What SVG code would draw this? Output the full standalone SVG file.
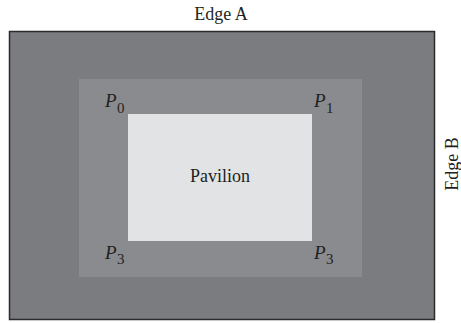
<svg xmlns="http://www.w3.org/2000/svg" width="461" height="323" viewBox="0 0 461 323">
<style>
text{font-family:"Liberation Serif","DejaVu Serif",serif;fill:#231f20}
.lbl{font-size:18px}
.p{font-size:19px;font-style:italic}
.sub{font-size:15px;font-style:normal}
</style>
<rect width="461" height="323" fill="#ffffff"/>
<g id="site">
<rect x="9.5" y="31.5" width="425" height="288" fill="#7b7c80" stroke="#2b2b2b" stroke-width="1.5"/>
</g>
<g id="zone">
<rect x="79" y="79" width="283" height="198" fill="#8a8b8f"/>
</g>
<g id="pavilion">
<rect x="128" y="114" width="184" height="127" fill="#e2e3e5"/>
<text class="lbl" x="220" y="182" text-anchor="middle">Pavilion</text>
</g>
<g id="edgeA"><text class="lbl" x="221" y="20" text-anchor="middle">Edge A</text></g>
<g id="edgeB"><text class="lbl" font-size="17" transform="translate(458,164) rotate(-90)" text-anchor="middle">Edge B</text></g>
<g id="p0"><text class="p" x="105" y="106.5">P<tspan class="sub" dx="0.5" dy="6">0</tspan></text></g>
<g id="p1"><text class="p" x="314" y="106.5">P<tspan class="sub" dx="0.5" dy="6">1</tspan></text></g>
<g id="p3a"><text class="p" x="105" y="259">P<tspan class="sub" dx="0.5" dy="4.5">3</tspan></text></g>
<g id="p3b"><text class="p" x="314" y="259">P<tspan class="sub" dx="0.5" dy="4.5">3</tspan></text></g>
<g id="connectors"></g>
</svg>
